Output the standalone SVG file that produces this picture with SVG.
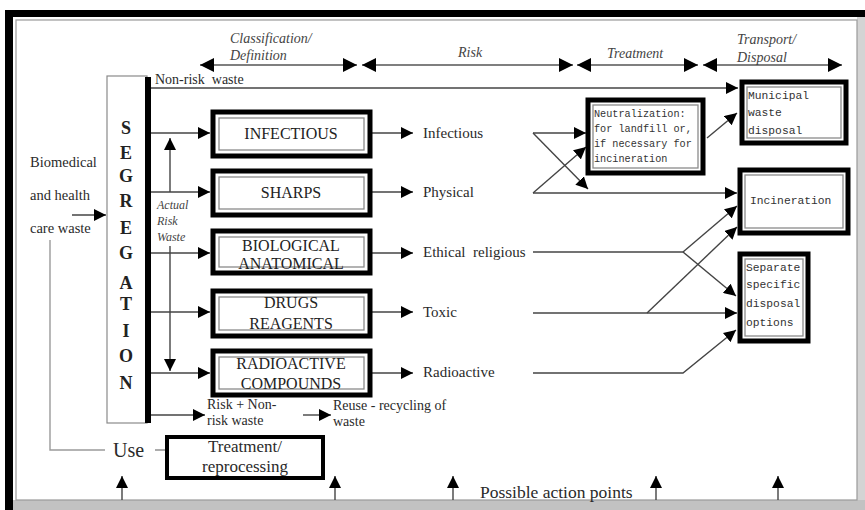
<svg xmlns="http://www.w3.org/2000/svg" width="865" height="510" viewBox="0 0 865 510">
  <style>
    text { font-family: "Liberation Serif", "Times New Roman", serif; fill: #2a2a2a; white-space: pre; }
    .hdr { font-style: italic; font-size: 14px; fill: #444; }
    .lbl { font-size: 15px; }
    .inp { font-size: 14.5px; }
    .cap { font-size: 16px; text-anchor: middle; fill: #222; }
    .seg { font-size: 18px; font-weight: bold; text-anchor: middle; fill: #222; }
    .mono { font-family: "Liberation Mono", "Courier New", monospace; font-size: 10.2px; fill: #333; }
    .mono2 { font-family: "Liberation Mono", "Courier New", monospace; font-size: 11.3px; fill: #333; }
    .small { font-size: 14px; }
    .ital { font-style: italic; font-size: 12px; fill: #444; }
    .outer { fill: #fff; stroke: #000; stroke-width: 5; }
    .inner { fill: none; stroke: #8a8a8a; stroke-width: 1.3; }
    .ln { fill: none; stroke: #444; stroke-width: 1.4; }
    .arr { marker-end: url(#ah); }
    .hd { fill: none; stroke: #555; stroke-width: 1.4; marker-start: url(#hh); marker-end: url(#hh); }
  </style>
  <defs>
    <marker id="ah" viewBox="0 0 12 12" refX="12" refY="6" markerWidth="12" markerHeight="12" markerUnits="userSpaceOnUse" orient="auto">
      <path d="M0,0 L12,6 L0,12 z" fill="#000"/>
    </marker>
    <marker id="hh" viewBox="0 0 14 14" refX="14" refY="7" markerWidth="14" markerHeight="14" markerUnits="userSpaceOnUse" orient="auto-start-reverse">
      <path d="M0,0 L14,7 L0,14 z" fill="#000"/>
    </marker>
  </defs>

  <!-- page frame -->
  <rect x="0" y="0" width="865" height="510" fill="#fff"/>
  <rect x="857" y="10" width="8" height="500" fill="#d4d4d4"/>
  <rect x="5" y="500" width="860" height="10" fill="#c2c2c2"/>
  <line x1="5" y1="13.5" x2="865" y2="13.5" stroke="#000" stroke-width="7"/>
  <line x1="9" y1="10" x2="9" y2="510" stroke="#000" stroke-width="8"/>
  <rect x="16" y="20" width="841" height="480" fill="none" stroke="#9a9a9a" stroke-width="1.2"/>

  <!-- stage headings -->
  <g id="stages">
    <line class="hd" x1="200" y1="65" x2="357" y2="65"/>
    <line class="hd" x1="362" y1="65" x2="573" y2="65"/>
    <line class="hd" x1="577" y1="65" x2="698" y2="65"/>
    <line class="hd" x1="703" y1="65" x2="842" y2="65"/>
    <text class="hdr" x="230" y="43">Classification/</text>
    <text class="hdr" x="230" y="60">Definition</text>
    <text class="hdr" x="458" y="57">Risk</text>
    <text class="hdr" x="607" y="58">Treatment</text>
    <text class="hdr" x="737" y="44">Transport/</text>
    <text class="hdr" x="737" y="62">Disposal</text>
  </g>

  <!-- connectors -->
  <g id="connectors">
    <!-- input -->
    <line class="ln arr" x1="72" y1="215" x2="106" y2="215"/>
    <polyline points="50,240 50,450 105,450" fill="none" stroke="#9a9a9a" stroke-width="1.4"/>
    <line x1="155" y1="450" x2="175" y2="450" stroke="#888" stroke-width="1.4"/>
    <!-- non-risk waste -->
    <line class="ln arr" x1="151" y1="88" x2="738" y2="88"/>
    <!-- segregation to categories -->
    <line class="ln arr" x1="151" y1="133" x2="210" y2="133"/>
    <line class="ln arr" x1="151" y1="192" x2="210" y2="192"/>
    <line class="ln arr" x1="151" y1="253" x2="210" y2="253"/>
    <line class="ln arr" x1="151" y1="312" x2="210" y2="312"/>
    <line class="ln arr" x1="151" y1="373" x2="210" y2="373"/>
    <!-- actual risk waste -->
    <line class="ln arr" x1="170" y1="192" x2="170" y2="138"/>
    <line class="ln arr" x1="170" y1="246" x2="170" y2="371"/>
    <!-- categories to risk -->
    <line class="ln arr" x1="372" y1="133" x2="413" y2="133"/>
    <line class="ln arr" x1="372" y1="192" x2="413" y2="192"/>
    <line class="ln arr" x1="372" y1="253" x2="413" y2="253"/>
    <line class="ln arr" x1="372" y1="312" x2="413" y2="312"/>
    <line class="ln arr" x1="372" y1="373" x2="413" y2="373"/>
    <!-- infectious -->
    <line class="ln arr" x1="533" y1="133" x2="586" y2="133"/>
    <line class="ln arr" x1="533" y1="133" x2="588" y2="189"/>
    <!-- physical -->
    <line class="ln arr" x1="533" y1="193" x2="586" y2="147"/>
    <line class="ln arr" x1="533" y1="193" x2="737" y2="193"/>
    <!-- neutralization to municipal -->
    <line class="ln arr" x1="707" y1="138" x2="737" y2="113"/>
    <!-- ethical / religious -->
    <polyline class="ln" points="533,252 683,252"/>
    <line class="ln arr" x1="683" y1="252" x2="737" y2="206"/>
    <line class="ln arr" x1="683" y1="252" x2="736" y2="296"/>
    <!-- toxic -->
    <line class="ln arr" x1="533" y1="313" x2="737" y2="313"/>
    <line class="ln arr" x1="647" y1="313" x2="737" y2="227"/>
    <!-- radioactive -->
    <polyline class="ln arr" points="533,373 683,373 736,330"/>
    <!-- reuse -->
    <line class="ln arr" x1="151" y1="415" x2="205" y2="415"/>
    <line class="ln arr" x1="303" y1="415" x2="331" y2="415"/>
    <!-- action points -->
    <line class="ln arr" x1="122" y1="500" x2="122" y2="476"/>
    <line class="ln arr" x1="335" y1="500" x2="335" y2="476"/>
    <line class="ln arr" x1="453" y1="500" x2="453" y2="476"/>
    <line class="ln arr" x1="656" y1="500" x2="656" y2="476"/>
    <line class="ln arr" x1="778" y1="500" x2="778" y2="476"/>
  </g>

  <!-- input text -->
  <g id="input">
    <text class="inp" x="30" y="167">Biomedical</text>
    <text class="inp" x="30" y="200">and health</text>
    <text class="inp" x="30" y="233">care waste</text>
  </g>

  <g id="segregation">
    <rect x="107" y="76" width="40" height="347" fill="#fff" stroke="#8a8a8a" stroke-width="1.2"/>
    <rect x="145" y="77" width="6" height="346" fill="#000"/>
    <text class="seg" x="126" y="134">S</text>
    <text class="seg" x="126" y="159">E</text>
    <text class="seg" x="126" y="182">G</text>
    <text class="seg" x="126" y="207">R</text>
    <text class="seg" x="126" y="234">E</text>
    <text class="seg" x="126" y="259">G</text>
    <text class="seg" x="126" y="289">A</text>
    <text class="seg" x="126" y="310">T</text>
    <text class="seg" x="126" y="337">I</text>
    <text class="seg" x="126" y="362">O</text>
    <text class="seg" x="126" y="389">N</text>
  </g>

  <g id="non-risk-label">
    <text class="small" x="155" y="84">Non-risk  waste</text>
  </g>
  <g id="actual-risk-label">
    <text class="ital" x="157" y="209">Actual</text>
    <text class="ital" x="157" y="225">Risk</text>
    <text class="ital" x="157" y="241">Waste</text>
  </g>

  <g id="infectious">
    <rect class="outer" x="213" y="112" width="157" height="44"/>
    <rect class="inner" x="219" y="118" width="145" height="32"/>
    <text class="cap" x="291" y="139">INFECTIOUS</text>
  </g>
  <g id="sharps">
    <rect class="outer" x="213" y="171" width="157" height="44"/>
    <rect class="inner" x="219" y="177" width="145" height="32"/>
    <text class="cap" x="291" y="198">SHARPS</text>
  </g>
  <g id="biological">
    <rect class="outer" x="213" y="231" width="157" height="42"/>
    <rect class="inner" x="219" y="237" width="145" height="30"/>
    <text class="cap" x="291" y="251">BIOLOGICAL</text>
    <text class="cap" x="291" y="269">ANATOMICAL</text>
  </g>
  <g id="drugs">
    <rect class="outer" x="213" y="291" width="157" height="45"/>
    <rect class="inner" x="219" y="297" width="145" height="33"/>
    <text class="cap" x="291" y="308">DRUGS</text>
    <text class="cap" x="291" y="329">REAGENTS</text>
  </g>
  <g id="radioactive">
    <rect class="outer" x="213" y="351" width="157" height="44"/>
    <rect class="inner" x="219" y="357" width="145" height="32"/>
    <text class="cap" x="291" y="369">RADIOACTIVE</text>
    <text class="cap" x="291" y="389">COMPOUNDS</text>
  </g>

  <g id="risks">
    <text class="lbl" x="423" y="138">Infectious</text>
    <text class="lbl" x="423" y="197">Physical</text>
    <text class="lbl" x="423" y="257">Ethical  religious</text>
    <text class="lbl" x="423" y="317">Toxic</text>
    <text class="lbl" x="423" y="377">Radioactive</text>
  </g>

  <g id="neutralization">
    <rect class="outer" x="588" y="100" width="115" height="73"/>
    <rect class="inner" x="593" y="105" width="105" height="63"/>
    <text class="mono" x="594" y="117">Neutralization:</text>
    <text class="mono" x="594" y="132">for landfill or,</text>
    <text class="mono" x="594" y="147">if necessary for</text>
    <text class="mono" x="594" y="162">incineration</text>
  </g>
  <g id="municipal">
    <rect class="outer" x="742" y="82" width="104" height="61"/>
    <rect class="inner" x="747" y="87" width="94" height="51"/>
    <text class="mono2" x="748" y="99">Municipal</text>
    <text class="mono2" x="748" y="116">waste</text>
    <text class="mono2" x="748" y="134">disposal</text>
  </g>
  <g id="incineration">
    <rect class="outer" x="740" y="170" width="108" height="63"/>
    <rect class="inner" x="745" y="175" width="98" height="53"/>
    <text class="mono2" x="750" y="204">Incineration</text>
  </g>
  <g id="separate">
    <rect class="outer" x="740" y="254" width="68" height="87"/>
    <rect class="inner" x="745" y="259" width="58" height="77"/>
    <text class="mono2" x="746" y="271">Separate</text>
    <text class="mono2" x="746" y="288">specific</text>
    <text class="mono2" x="746" y="307">disposal</text>
    <text class="mono2" x="746" y="326">options</text>
  </g>

  <g id="reuse">
    <text class="small" x="207" y="409">Risk + Non-</text>
    <text class="small" x="207" y="425">risk waste</text>
    <text class="small" x="333" y="410">Reuse - recycling of</text>
    <text class="small" x="333" y="426">waste</text>
  </g>

  <g id="use">
    <text x="113" y="457" font-size="20" fill="#555">Use</text>
  </g>
  <g id="treatment">
    <rect x="167" y="437" width="156" height="41" fill="#fff" stroke="#000" stroke-width="4"/>
    <text x="245" y="452" font-size="17" text-anchor="middle">Treatment/</text>
    <text x="245" y="472" font-size="17" text-anchor="middle">reprocessing</text>
  </g>

  <g id="action-points">
    <text x="480" y="498" font-size="17.5" fill="#333">Possible action points</text>
  </g>
</svg>
